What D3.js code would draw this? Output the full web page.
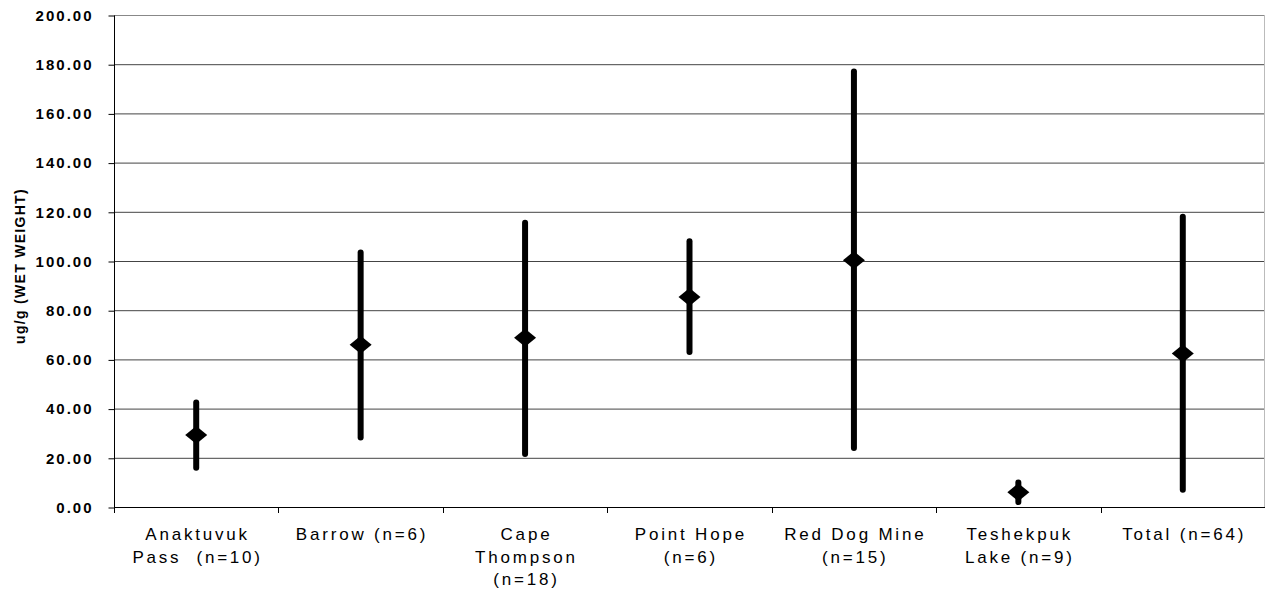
<!DOCTYPE html>
<html><head><meta charset="utf-8">
<script src="https://cdn.jsdelivr.net/npm/d3@7"></script>
<style>
body{margin:0;background:#fff;}
svg{display:block;font-family:"Liberation Sans",Arial,sans-serif;}
</style></head>
<body><svg id="chart" width="1265" height="590"></svg>
<script>
const categories = [
  ["Anaktuvuk","Pass  (n=10)"],
  ["Barrow (n=6)"],
  ["Cape","Thompson","(n=18)"],
  ["Point Hope","(n=6)"],
  ["Red Dog Mine","(n=15)"],
  ["Teshekpuk","Lake (n=9)"],
  ["Total (n=64)"]
];
const highs = [42.5, 103.5, 115.5, 108, 177, 10, 118];
const means = [29.3, 66, 68.8, 85.4, 100.3, 6, 62.4];
const lows  = [16, 28.3, 21.5, 63, 24, 2, 7];
const yTicks = [0,20,40,60,80,100,120,140,160,180,200];
const yTitle = "ug/g (WET WEIGHT)";

(function(){
const svg = d3.select("#chart");
const pL = 114, pR = 1265, pT = 15, pB = 507;
const keys = categories.map((c,i)=>i);
const x = d3.scaleBand().domain(keys).range([pL,pR]);
const y = d3.scaleLinear().domain([0,200]).range([pB,pT]);

// gridlines
svg.append("g").selectAll("line").data(yTicks.filter(t=>t>0)).join("line")
  .attr("x1",pL).attr("x2",pR)
  .attr("y1",d=>y(d)+0.5).attr("y2",d=>y(d)+0.5)
  .attr("stroke",d=>d===200?"#888":"#444").attr("stroke-width",1);
// right border
svg.append("line").attr("x1",pR-0.5).attr("x2",pR-0.5).attr("y1",pT).attr("y2",pB)
  .attr("stroke","#bbb");

// y axis
const yAxis = svg.append("g").attr("transform",`translate(${pL+0.5},0.5)`)
  .call(d3.axisLeft(y).tickValues(yTicks).tickFormat(d3.format(".2f")).tickSize(6).tickPadding(15));
yAxis.select(".domain").attr("stroke","#000").attr("d",`M0,${pT}V${pB}`);
yAxis.selectAll(".tick line").attr("stroke","#000");
yAxis.selectAll(".tick text").attr("font-size",15).attr("font-weight","bold")
  .attr("letter-spacing","2px").attr("fill","#000").attr("font-family","Liberation Sans, Arial, sans-serif");

// x axis
const xAxis = svg.append("g").attr("transform",`translate(0,${pB+0.5})`)
  .call(d3.axisBottom(x).tickSize(0).tickFormat(""));
xAxis.select(".domain").attr("stroke","#000").attr("d",`M${pL},0H${pR}`);
// category separators
svg.append("g").selectAll("line").data(keys).join("line")
  .attr("x1",d=>Math.round(x(d))+0.5).attr("x2",d=>Math.round(x(d))+0.5)
  .attr("y1",pB).attr("y2",pB+6).attr("stroke","#000");

// category labels
const cx = d=>x(d)+x.bandwidth()/2;
const lab = svg.append("g").selectAll("text").data(keys).join("text")
  .attr("text-anchor","middle").attr("font-size",17).attr("letter-spacing","2.8px").attr("fill","#000");
lab.each(function(d){
  const t = d3.select(this);
  categories[d].forEach((s,j)=>{
    t.append("tspan").attr("x",cx(d)+1.4).attr("y",540+j*22.5)
     .attr("xml:space","preserve").style("white-space","pre").text(s);
  });
});

// range lines
svg.append("g").selectAll("line").data(keys).join("line")
  .attr("x1",cx).attr("x2",cx).attr("y1",d=>y(highs[d])).attr("y2",d=>y(lows[d]))
  .attr("stroke","#000").attr("stroke-width",6).attr("stroke-linecap","round");
// diamonds
svg.append("g").selectAll("path").data(keys).join("path")
  .attr("d",d=>{const px=cx(d),py=y(means[d]);return `M${px-11},${py}L${px},${py-9}L${px+11},${py}L${px},${py+9}Z`;})
  .attr("fill","#000");

// y title
svg.append("text").attr("transform",`translate(25,266) rotate(-90)`)
  .attr("text-anchor","middle").attr("font-size",14).attr("font-weight","bold")
  .attr("letter-spacing","1.3px").text(yTitle);
})();
</script></body></html>
